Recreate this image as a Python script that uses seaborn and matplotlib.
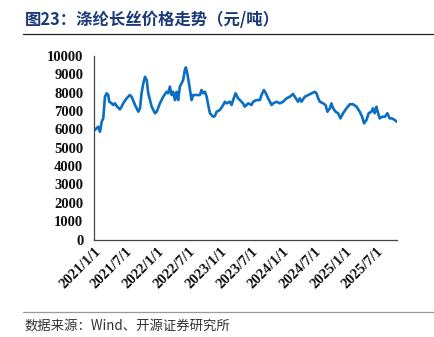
import matplotlib
matplotlib.use("Agg")
import matplotlib.pyplot as plt
from matplotlib.lines import Line2D
import pandas as pd
import seaborn as sns

# Polyester filament (涤纶长丝) price, yuan per tonne
dates = [
    "2021-01-04", "2021-01-23", "2021-02-02", "2021-02-12", "2021-02-21", "2021-03-03",
    "2021-03-13", "2021-03-22", "2021-03-28", "2021-04-11", "2021-04-20", "2021-04-30",
    "2021-05-10", "2021-05-29", "2021-06-08", "2021-06-17", "2021-07-07", "2021-07-26",
    "2021-08-05", "2021-08-25", "2021-09-13", "2021-09-23", "2021-10-02", "2021-10-12",
    "2021-10-22", "2021-11-01", "2021-11-10", "2021-11-30", "2021-12-19", "2021-12-29",
    "2022-01-17", "2022-02-05", "2022-02-25", "2022-03-06", "2022-03-16", "2022-03-26",
    "2022-04-04", "2022-04-14", "2022-04-24", "2022-05-03", "2022-05-13", "2022-05-23",
    "2022-06-01", "2022-06-11", "2022-06-17", "2022-06-25", "2022-07-05", "2022-07-20",
    "2022-07-30", "2022-08-18", "2022-09-07", "2022-09-16", "2022-09-26", "2022-10-06",
    "2022-10-16", "2022-10-25", "2022-11-04", "2022-11-23", "2022-12-03", "2022-12-13",
    "2023-01-01", "2023-01-20", "2023-01-30", "2023-02-09", "2023-02-28", "2023-03-10",
    "2023-03-19", "2023-04-02", "2023-04-17", "2023-05-07", "2023-05-16", "2023-05-26",
    "2023-06-15", "2023-07-04", "2023-07-14", "2023-08-02", "2023-08-22", "2023-08-31",
    "2023-09-14", "2023-09-25", "2023-10-09", "2023-10-29", "2023-11-07", "2023-11-27",
    "2023-12-16", "2024-01-04", "2024-01-24", "2024-02-12", "2024-03-02", "2024-03-12",
    "2024-03-31", "2024-04-10", "2024-04-20", "2024-05-09", "2024-05-29", "2024-06-17",
    "2024-07-06", "2024-07-16", "2024-07-26", "2024-08-05", "2024-08-24", "2024-09-07",
    "2024-09-18", "2024-10-02", "2024-10-11", "2024-10-21", "2024-11-04", "2024-11-19",
    "2024-12-03", "2024-12-18", "2025-01-07", "2025-01-26", "2025-02-14", "2025-03-06",
    "2025-03-25", "2025-04-08", "2025-04-19", "2025-05-03", "2025-05-16", "2025-06-01",
    "2025-06-10", "2025-06-20", "2025-06-30", "2025-07-10", "2025-07-19", "2025-08-02",
    "2025-08-18", "2025-09-02", "2025-09-15", "2025-09-29", "2025-10-15", "2025-10-25",
]
prices = [
    5970, 6150, 5875, 6420, 6600, 7780,
    7970, 7875, 7510, 7420, 7330, 7420,
    7275, 7095, 7240, 7420, 7695, 7875,
    7780, 7330, 6965, 7150, 7970, 8510,
    8870, 8690, 7970, 7240, 6880, 6965,
    7420, 7780, 8050, 7970, 8330, 7875,
    8050, 7600, 8050, 7600, 8330, 8510,
    8690, 9240, 9380, 9060, 8510, 7600,
    7875, 7875, 7875, 8150, 7970, 8050,
    7780, 7330, 6880, 6690, 6730, 6965,
    7060, 7330, 7510, 7420, 7510, 7330,
    7600, 7970, 7695, 7510, 7420, 7240,
    7420, 7330, 7510, 7600, 7600, 7875,
    8150, 7970, 7695, 7330, 7420, 7510,
    7420, 7510, 7695, 7780, 7930, 7780,
    7510, 7695, 7510, 7780, 7875, 7970,
    8050, 7970, 7695, 7510, 7420, 7330,
    6965, 7150, 7420, 7150, 6965, 6880,
    6600, 6880, 7150, 7370, 7370, 7240,
    6965, 6690, 6330, 6510, 6880, 6965,
    7150, 6880, 7240, 6880, 6600, 6690,
    6690, 6880, 6600, 6600, 6510, 6420,
]
y_ticks = [0, 1000, 2000, 3000, 4000, 5000, 6000, 7000, 8000, 9000, 10000]
x_ticks = ["2021-01-01", "2021-07-01", "2022-01-01", "2022-07-01", "2023-01-01",
           "2023-07-01", "2024-01-01", "2024-07-01", "2025-01-01", "2025-07-01"]
x_tick_labels = ["2021/1/1", "2021/7/1", "2022/1/1", "2022/7/1", "2023/1/1",
                 "2023/7/1", "2024/1/1", "2024/7/1", "2025/1/1", "2025/7/1"]
title_text = "图23：涤纶长丝价格走势（元/吨）"
source_text = "数据来源：Wind、开源证券研究所"

df = pd.DataFrame({"date": pd.to_datetime(dates), "price": prices})

sns.set_theme(style="white")
plt.rcParams["font.family"] = ["Noto Sans CJK SC", "DejaVu Sans"]

fig = plt.figure(figsize=(4.34, 3.37), dpi=100)
ax = fig.add_axes([0.2177, 0.2893, 0.9140 - 0.2177, 0.8338 - 0.2893])

sns.lineplot(data=df, x="date", y="price", ax=ax, color="#0A6EC2", linewidth=1.9)

ax.set_xlim(pd.Timestamp("2021-01-01"), pd.Timestamp("2025-10-26"))
ax.set_ylim(0, 10000)
ax.set_yticks(y_ticks)
ax.set_yticklabels([str(v) for v in y_ticks])
ax.set_xticks(pd.to_datetime(x_ticks))
ax.set_xticklabels(x_tick_labels, rotation=45, ha="right", rotation_mode="anchor")
ax.set_xlabel("")
ax.set_ylabel("")

for lab in ax.get_xticklabels() + ax.get_yticklabels():
    lab.set_family("Liberation Serif")
    lab.set_fontweight("bold")
    lab.set_fontsize(10.5)
    lab.set_color("#111111")

ax.tick_params(axis="both", direction="in", length=3, width=0.8, color="#555555")
ax.tick_params(axis="y", pad=8)
ax.tick_params(axis="x", pad=4)
for side in ["top", "right"]:
    ax.spines[side].set_visible(False)
for side in ["left", "bottom"]:
    ax.spines[side].set_color("#444444")
    ax.spines[side].set_linewidth(0.9)

# Heading and source note with their rule lines
fig.text(25 / 434, 1 - 20 / 337, title_text, fontsize=11.8, fontweight="bold",
         color="#1B3A78", ha="left", va="center")
fig.add_artist(Line2D([23 / 434, 1.0], [1 - 34 / 337] * 2, color="#222222", linewidth=0.9))
fig.add_artist(Line2D([23 / 434, 1.0], [1 - 312 / 337] * 2, color="#999999", linewidth=0.9))
fig.text(25 / 434, 1 - 325.5 / 337, source_text, fontsize=9.6, color="#333333",
         ha="left", va="center")

fig.savefig("out.png", dpi=100)
